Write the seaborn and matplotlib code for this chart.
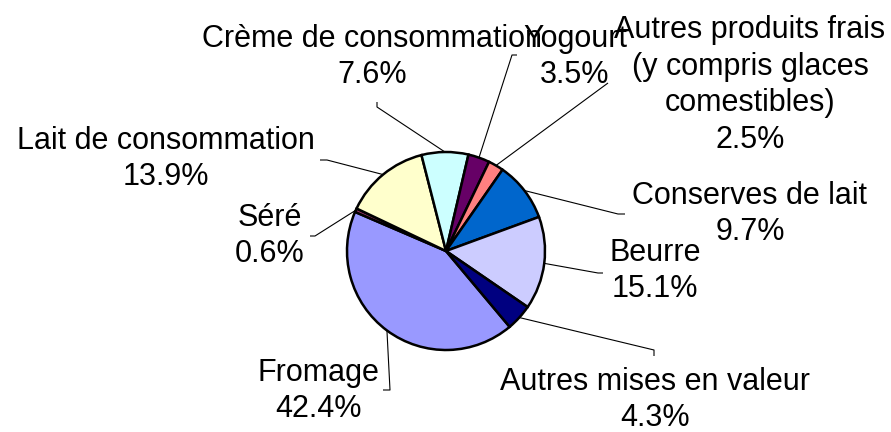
import numpy as np
import seaborn as sns
import matplotlib
matplotlib.use('Agg')
import matplotlib.pyplot as plt

# data in the order Excel draws the slices (clockwise)
categories = ['Fromage', 'Séré', 'Lait de consommation', 'Crème de consommation',
              'Yogourt', 'Autres produits frais\n(y compris glaces\ncomestibles)',
              'Conserves de lait', 'Beurre', 'Autres mises en valeur']
shares = [42.4, 0.6, 13.9, 7.6, 3.5, 2.5, 9.7, 15.1, 4.3]
colors = ['#9999FF', '#993366', '#FFFFCC', '#CCFFFF', '#660066',
          '#FF8080', '#0066CC', '#CCCCFF', '#000080']

W, H = 891, 432

# label layout in pixel coords (y down): text centre, elbow, tick end
label_pos = [(318, 391), (270, 236), (166, 159), (372, 57), (575, 57),
             (750, 85), (750, 214), (655, 271), (655, 400)]
elbows = [(390, 390), (315, 236), (327, 160), (377, 107), (512, 55),
          (608, 83), (618, 214), (598, 273), (654, 350)]
ticks = [(383, 390), (310, 236), (320, 160), (377, 102), (517, 55),
         (608, 83), (625, 214), (603, 273), (654, 356)]

sns.set_theme(style='white')
plt.rcParams['font.family'] = ['Liberation Sans', 'DejaVu Sans']

fig = plt.figure(figsize=(W / 100, H / 100), dpi=100)
ax = fig.add_axes([0, 0, 1, 1])

cx, cy, r = 446, H - 251, 99
wedges, _ = ax.pie(shares, colors=colors, startangle=310, counterclock=False,
                   center=(cx, cy), radius=r, frame=True,
                   wedgeprops=dict(edgecolor='black', linewidth=1.8))
ax.set_xlim(0, W)
ax.set_ylim(0, H)
ax.set_aspect('equal')
ax.axis('off')

for w, name, val, (tx, ty), (ex, ey), (kx, ky) in zip(wedges, categories, shares,
                                                      label_pos, elbows, ticks):
    mid = np.deg2rad((w.theta1 + w.theta2) / 2)
    px, py = cx + r * np.cos(mid), cy + r * np.sin(mid)
    ax.plot([px, ex, kx], [py, H - ey, H - ky], color='black', lw=0.8,
            solid_capstyle='butt', zorder=0)
    ax.text(tx, H - ty, f'{name}\n{val:.1f}%', ha='center', va='center',
            fontsize=22, color='black', linespacing=1.28)

fig.savefig('out.png', dpi=100)
